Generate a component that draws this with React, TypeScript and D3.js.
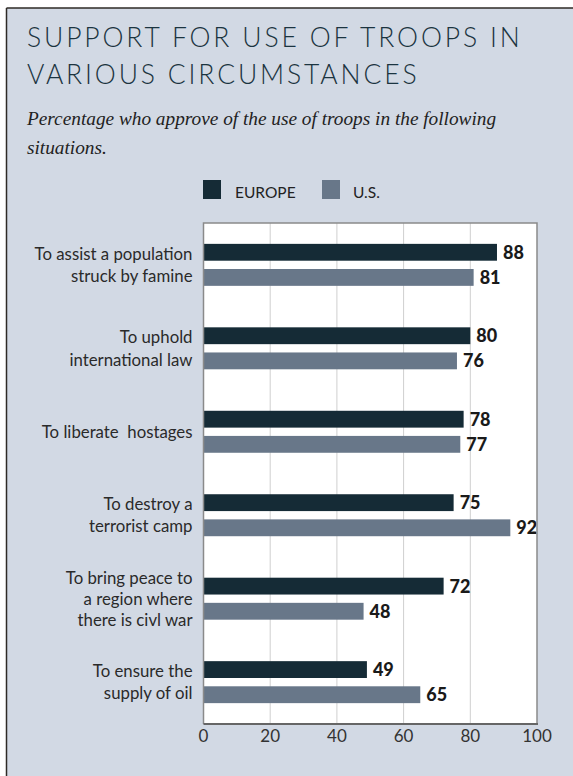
import React from "react";
import * as d3 from "d3";

const categories = [
  ["To assist a population", "struck by famine"],
  ["To uphold", "international law"],
  ["To liberate  hostages"],
  ["To destroy a", "terrorist camp"],
  ["To bring peace to", "a region where", "there is civl war"],
  ["To ensure the", "supply of oil"],
];
const europe = [88, 80, 78, 75, 72, 49];
const us = [81, 76, 77, 92, 48, 65];
const seriesNames = ["EUROPE", "U.S."];
const ticks = [0, 20, 40, 60, 80, 100];

const W = 573;
const H = 776;
const BG = "#d2d9e4";
const C_EU = "#152b36";
const C_US = "#687789";
const SANS = "Lato, 'Noto Sans', sans-serif";

export default function App() {
  const plot = { left: 203.5, right: 537, top: 223, bottom: 724 };
  const x = d3.scaleLinear().domain([0, 100]).range([plot.left, plot.right]);
  const keys = categories.map((_, i) => String(i));
  const y = d3
    .scaleBand<string>()
    .domain(keys)
    .range([plot.top, plot.bottom])
    .paddingInner(0.497)
    .paddingOuter(0.25);
  const sub = d3
    .scaleBand<string>()
    .domain(seriesNames)
    .range([0, y.bandwidth()])
    .paddingInner(0.33);
  const colors = [C_EU, C_US];
  const data = [europe, us];

  return (
    <div style={{ position: "absolute", left: 0, top: 0 }}>
      <svg width={W} height={H} style={{ display: "block" }}>
        <rect x={0} y={0} width={W} height={H} fill="#ffffff" />
        <rect x={6.5} y={8} width={W} height={H} fill={BG} />
        <line x1={6.5} y1={8} x2={W} y2={8} stroke="#2e2a26" strokeWidth={1.5} />
        <line x1={6.5} y1={8} x2={6.5} y2={H} stroke="#2e2a26" strokeWidth={1.5} />

        <text
          x={27}
          y={47}
          fontFamily={SANS}
          fontWeight={300}
          fontSize={26.5}
          letterSpacing={2.85}
          fill="#1b3440"
        >
          SUPPORT FOR USE OF TROOPS IN
        </text>
        <text
          x={27}
          y={83.5}
          fontFamily={SANS}
          fontWeight={300}
          fontSize={26.5}
          letterSpacing={2.85}
          fill="#1b3440"
        >
          VARIOUS CIRCUMSTANCES
        </text>
        <text
          x={27}
          y={125}
          fontFamily="'Liberation Serif', serif"
          fontStyle="italic"
          fontSize={19.3}
          fill="#222"
        >
          Percentage who approve of the use of troops in the following
        </text>
        <text
          x={27}
          y={154}
          fontFamily="'Liberation Serif', serif"
          fontStyle="italic"
          fontSize={19.3}
          fill="#222"
        >
          situations.
        </text>

        {/* legend */}
        <rect x={203} y={180} width={18} height={19} fill={C_EU} />
        <text x={235} y={198} fontFamily={SANS} fontSize={15.5} fill="#222">
          {seriesNames[0]}
        </text>
        <rect x={322} y={180} width={18} height={19} fill={C_US} />
        <text x={353} y={198} fontFamily={SANS} fontSize={15.5} fill="#222">
          {seriesNames[1]}
        </text>

        {/* plot */}
        <rect
          x={plot.left}
          y={plot.top}
          width={plot.right - plot.left}
          height={plot.bottom - plot.top}
          fill="#ffffff"
        />
        {ticks.slice(1, -1).map((t) => (
          <line
            key={t}
            x1={x(t)}
            x2={x(t)}
            y1={plot.top}
            y2={plot.bottom}
            stroke="#cfcfcf"
            strokeWidth={1}
          />
        ))}
        {keys.map((k, i) => (
          <g key={k}>
            {data.map((vals, s) => {
              const by = (y(k) as number) + (sub(seriesNames[s]) as number);
              return (
                <g key={s}>
                  <rect
                    x={x(0)}
                    y={by}
                    width={x(vals[i]) - x(0)}
                    height={sub.bandwidth()}
                    fill={colors[s]}
                  />
                  <text
                    x={x(vals[i]) + 6}
                    y={by + sub.bandwidth() / 2 + 6.5}
                    fontFamily={SANS}
                    fontWeight={900}
                    fontSize={18}
                    fill="#1a1a1a"
                  >
                    {vals[i]}
                  </text>
                </g>
              );
            })}
            {categories[i].map((line, j) => {
              const n = categories[i].length;
              const cy = (y(k) as number) + y.bandwidth() / 2;
              const lh = n === 3 ? 21 : 22.5;
              return (
                <text
                  key={j}
                  x={192.5}
                  y={cy + 6 + (j - (n - 1) / 2) * lh}
                  textAnchor="end"
                  fontFamily={SANS}
                  fontSize={16.8}
                  fill="#2a2a2a"
                  style={{ whiteSpace: "pre" }}
                >
                  {line}
                </text>
              );
            })}
          </g>
        ))}
        <path
          d={`M${plot.left},${plot.bottom}V${plot.top}H${plot.right}V${plot.bottom}`}
          fill="none"
          stroke="#8a8a8a"
          strokeWidth={1.5}
        />
        <line
          x1={plot.left}
          x2={plot.right + 1}
          y1={plot.bottom}
          y2={plot.bottom}
          stroke="#666"
          strokeWidth={2}
        />
        {ticks.map((t) => (
          <text
            key={t}
            x={x(t)}
            y={742}
            textAnchor="middle"
            fontFamily={SANS}
            fontSize={17}
            fill="#333"
          >
            {t}
          </text>
        ))}
      </svg>
    </div>
  );
}
